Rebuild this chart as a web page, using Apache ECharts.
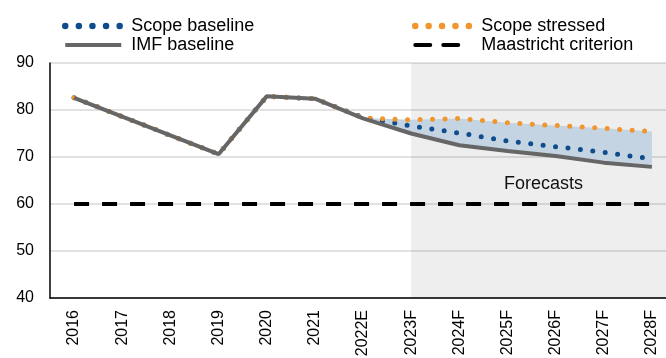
<!DOCTYPE html>
<html>
<head>
<meta charset="utf-8">
<script src="https://cdn.jsdelivr.net/npm/echarts@6/dist/echarts.min.js"></script>
<style>
html,body{margin:0;padding:0;background:#fff;}
#chart{width:666px;height:358px;}
</style>
</head>
<body>
<div id="chart"></div>
<script>
var categories = ['2016','2017','2018','2019','2020','2021','2022E','2023F','2024F','2025F','2026F','2027F','2028F'];
var scopeBaseline = [82.6, 78.6, 74.6, 70.6, 82.9, 82.4, 78.4, 76.6, 75.1, 73.4, 72.2, 71.0, 69.6];
var scopeStressed = [82.6, 78.6, 74.6, 70.6, 82.9, 82.4, 78.3, 77.9, 78.2, 77.3, 76.7, 76.1, 75.4];
var imfBaseline   = [82.6, 78.6, 74.6, 70.6, 82.9, 82.4, 78.2, 75.0, 72.5, 71.3, 70.2, 68.8, 67.9];
var maastricht    = [60, 60, 60, 60, 60, 60, 60, 60, 60, 60, 60, 60, 60];
var bandStartIndex = 6;      // band starts at 2022E
var forecastStartIndex = 7;  // shading starts at 2023F
var yTicks = {min: 40, max: 90, interval: 10};

var FONT = 'Liberation Sans, Arial, sans-serif';

var bandBase = imfBaseline.map(function (v, i) { return i >= bandStartIndex ? v : '-'; });
var bandTop = scopeStressed.map(function (v, i) { return i >= bandStartIndex ? +(v - imfBaseline[i]).toFixed(2) : '-'; });

var legendText = {fontSize: 18, color: '#000', fontFamily: FONT, lineHeight: 18, padding: [0, 0, 0, 5]};
var hiddenSymbol = {opacity: 0};

var chart = echarts.init(document.getElementById('chart'), null, {renderer: 'canvas'});
chart.setOption({
  animation: false,
  textStyle: {fontFamily: FONT},
  grid: {left: 50, width: 626, top: 63, bottom: 60, containLabel: false, outerBoundsMode: 'none'},
  legend: [
    {
      orient: 'vertical', left: 62, top: 17, padding: 0, itemWidth: 56, itemHeight: 14, itemGap: 1,
      itemStyle: hiddenSymbol,
      lineStyle: {width: 6},
      data: [
        {name: 'Scope baseline', lineStyle: {color: '#0e4c8c', width: 6.5, type: [0, 13.6], cap: 'round'}},
        {name: 'IMF baseline', lineStyle: {color: '#666666', width: 4}}
      ],
      textStyle: legendText
    },
    {
      orient: 'vertical', left: 412, top: 17, padding: 0, itemWidth: 56, itemHeight: 14, itemGap: 1,
      itemStyle: hiddenSymbol,
      lineStyle: {width: 6},
      data: [
        {name: 'Scope stressed', lineStyle: {color: '#f0962e', width: 6.5, type: [0, 13.4], cap: 'round'}},
        {name: 'Maastricht criterion', lineStyle: {color: '#000', width: 4, type: [15, 13, 15, 13, 3, 100], cap: 'round'}}
      ],
      textStyle: legendText
    }
  ],
  xAxis: [
    {
      type: 'category', data: categories, boundaryGap: true,
      axisLine: {lineStyle: {color: '#000', width: 1.5}},
      axisTick: {show: false},
      axisLabel: {rotate: 90, margin: 12, fontSize: 16, color: '#000', fontFamily: FONT},
      splitLine: {show: false}
    },
    {
      type: 'value', min: -0.5, max: categories.length - 0.5, show: false
    }
  ],
  yAxis: {
    type: 'value', min: yTicks.min, max: yTicks.max, interval: yTicks.interval,
    axisLine: {show: true, onZero: false, lineStyle: {color: '#000', width: 1.5}},
    axisTick: {show: false},
    axisLabel: {fontSize: 16, color: '#000', margin: 16, fontFamily: FONT},
    splitLine: {lineStyle: {color: '#d9d9d9', width: 1.5}}
  },
  series: [
    {
      name: 'forecastShade', type: 'line', xAxisIndex: 1, data: [], silent: true,
      markArea: {
        silent: true,
        itemStyle: {color: 'rgba(0,0,0,0.065)'},
        label: {show: true, position: 'inside', offset: [0, 4], fontSize: 18, color: '#111', fontFamily: FONT},
        data: [[{xAxis: forecastStartIndex, name: 'Forecasts'}, {xAxis: categories.length - 0.5}]]
      }
    },
    {
      name: 'bandBase', type: 'line', stack: 'band', data: bandBase, symbol: 'none',
      lineStyle: {opacity: 0}, silent: true
    },
    {
      name: 'bandTop', type: 'line', stack: 'band', data: bandTop, symbol: 'none',
      lineStyle: {opacity: 0}, areaStyle: {color: '#c4d4e3', opacity: 1}, silent: true
    },
    {
      name: 'Scope baseline', type: 'line', data: scopeBaseline, symbol: 'none',
      color: '#0e4c8c',
      lineStyle: {color: '#0e4c8c', width: 5, type: [0, 12.5], cap: 'round'}
    },
    {
      name: 'Scope stressed', type: 'line', data: scopeStressed, symbol: 'none',
      color: '#f0962e',
      lineStyle: {color: '#f0962e', width: 5, type: [0, 12.5], cap: 'round'}
    },
    {
      name: 'IMF baseline', type: 'line', data: imfBaseline, symbol: 'none',
      color: '#666666',
      lineStyle: {color: '#666666', width: 4}
    },
    {
      name: 'Maastricht criterion', type: 'line', data: maastricht, symbol: 'none',
      color: '#000',
      lineStyle: {color: '#000', width: 4, type: [15, 13]}
    }
  ]
});
</script>
</body>
</html>
